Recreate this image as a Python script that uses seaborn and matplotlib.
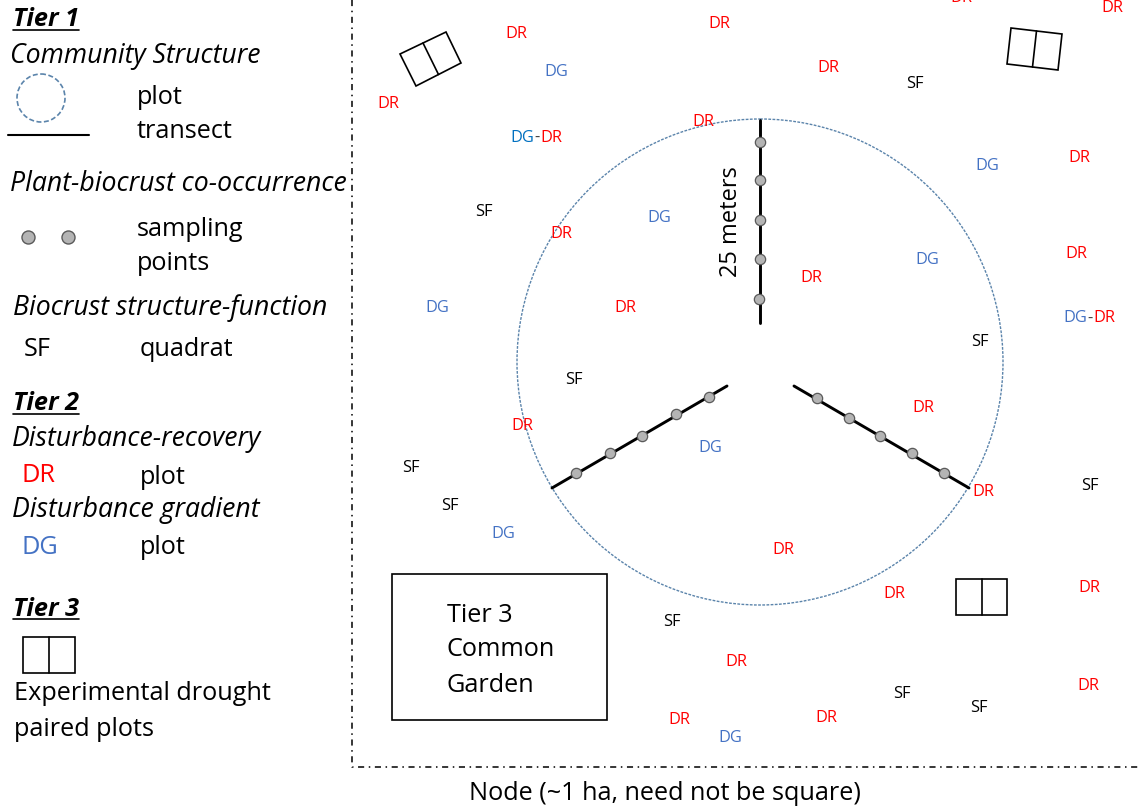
import matplotlib
matplotlib.use("Agg")
import matplotlib.pyplot as plt
from matplotlib.patches import Circle, Polygon, Rectangle
import pandas as pd
import seaborn as sns

# field site labels, positions in image pixels
dr_x = [516, 719, 828, 388, 703, 1079, 561, 625, 811, 1076, 923, 522, 983, 783, 894, 1089, 736, 1088, 679, 826, 961, 1112]
dr_y = [32, 23, 67, 102, 121, 156, 232, 306, 276, 253, 407, 424, 490, 548, 592, 587, 660, 684, 718, 716, -3, 6]
dg_x = [556, 987, 659, 927, 437, 710, 503, 730]
dg_y = [71, 164, 217, 258, 306, 447, 533, 737]
sf_x = [915, 484, 980, 574, 411, 450, 1090, 672, 902, 979]
sf_y = [83, 210, 341, 379, 466, 505, 485, 621, 692, 707]

# transects and their sampling points
transect_a_x = [760, 760]
transect_a_y = [120, 323]
transect_b_x = [794, 969]
transect_b_y = [386, 488]
transect_c_x = [727, 552]
transect_c_y = [386, 488]
points_x = [760, 760, 760, 760, 759, 817, 849, 880, 912, 944, 709, 676, 642, 610, 576]
points_y = [142, 180, 220, 259, 299, 398, 418, 436, 453, 473, 397, 414, 436, 453, 473]
key_points_x = [28, 68]
key_points_y = [237, 237]

# paired drought plots: four corners, the divider joins the midpoints
pair_tl = [(400, 54), (446, 32), (461, 63), (416, 86)]
pair_tr = [(1011, 28), (1062, 34), (1058, 70), (1007, 64)]
pair_br = [(956, 579), (1007, 579), (1007, 615), (956, 615)]
pair_lg = [(23, 637), (75, 637), (75, 673), (23, 673)]

RED = "#ff0000"
BLUE = "#4472c4"
CIRCLE = "#5b84ab"
FONT = "Open Sans"
BIG = 18.2
ITALIC = 19.2
SMALL = 11.8

sns.set_theme(style="white")
plt.rcParams["font.family"] = [FONT, "DejaVu Sans"]
plt.rcParams["text.color"] = "black"

fig = plt.figure(figsize=(11.41, 8.06), dpi=100)
ax = fig.add_axes([0, 0, 1, 1])

# node border
ax.plot([352, 352, 1146], [0, 767, 767], color="black", lw=1.1, ls=(0, (4, 3, 1, 3)))

# plot circles
ax.add_patch(Circle((760, 362), 243, fill=False, ec=CIRCLE, lw=1, ls=(0, (2, 1))))
ax.add_patch(Circle((41, 98), 24, fill=False, ec=CIRCLE, lw=1.2, ls=(0, (3, 1.5))))

# transects
for tx, ty in [(transect_a_x, transect_a_y), (transect_b_x, transect_b_y), (transect_c_x, transect_c_y)]:
    line = pd.DataFrame({"x": tx, "y": ty})
    sns.lineplot(data=line, x="x", y="y", sort=False, estimator=None, color="black", lw=2.1, ax=ax)
ax.plot([8, 89], [135, 135], color="black", lw=1.5)

sns.scatterplot(x=points_x, y=points_y, s=55, color="#b4b4b4", edgecolor="#5a5a5a", linewidth=0.9, zorder=3, ax=ax)
sns.scatterplot(x=key_points_x, y=key_points_y, s=88, color="#b4b4b4", edgecolor="#5a5a5a", linewidth=1, zorder=3, ax=ax)


def paired(corners):
    ax.add_patch(Polygon(corners, closed=True, fill=False, ec="black", lw=1.2))
    a, b, c, d = corners
    ax.plot([(a[0] + b[0]) / 2, (c[0] + d[0]) / 2], [(a[1] + b[1]) / 2, (c[1] + d[1]) / 2], color="black", lw=1.2)


for corners in [pair_tl, pair_tr, pair_br, pair_lg]:
    paired(corners)

ax.add_patch(Rectangle((392, 574), 215, 146, fill=False, ec="black", lw=1.2))

# site labels
for xs, ys, label, col in [(dr_x, dr_y, "DR", RED), (dg_x, dg_y, "DG", BLUE), (sf_x, sf_y, "SF", "black")]:
    for x, y in zip(xs, ys):
        ax.text(x, y + 1.5, label, color=col, fontsize=SMALL, ha="center", va="center")

# the two combined labels
ax.text(510, 137.5, "DG", color="#0070c0", fontsize=SMALL, va="center")
ax.text(537, 137.5, "-", color="#404040", fontsize=SMALL, va="center", ha="center")
ax.text(540, 137.5, "DR", color=RED, fontsize=SMALL, va="center")
ax.text(1063, 318.5, "DG", color=BLUE, fontsize=SMALL, va="center")
ax.text(1090, 318.5, "-", color="#404040", fontsize=SMALL, va="center", ha="center")
ax.text(1093, 318.5, "DR", color=RED, fontsize=SMALL, va="center")

# key, left side
for x, y, s in [(13, 18, "Tier 1"), (13, 402, "Tier 2"), (13, 607, "Tier 3")]:
    ax.text(x, y + 2, s, fontsize=BIG, fontweight="bold", fontstyle="italic", va="center")
    ax.plot([13, 79], [y + 12, y + 12], color="black", lw=1.2)

for x, y, s in [(10, 54, "Community Structure"), (10, 182, "Plant-biocrust co-occurrence"),
                (13, 306, "Biocrust structure-function"), (12, 437, "Disturbance-recovery"),
                (12, 508, "Disturbance gradient")]:
    ax.text(x, y + 2, s, fontsize=ITALIC, fontstyle="italic", va="center")

for x, y, s in [(137, 95, "plot"), (137, 130, "transect"), (137, 227, "sampling"), (137, 262, "points"),
                (24, 348, "SF"), (140, 348, "quadrat"), (140, 475, "plot"), (140, 546, "plot"),
                (14, 692, "Experimental drought"), (14, 727, "paired plots"),
                (447, 613, "Tier 3"), (447, 648, "Common"), (447, 683, "Garden")]:
    ax.text(x, y + 2, s, fontsize=BIG, va="center")

ax.text(22, 476, "DR", color=RED, fontsize=BIG, va="center")
ax.text(22, 547, "DG", color=BLUE, fontsize=BIG, va="center")

ax.text(731, 222, "25 meters", fontsize=17, rotation=90, ha="center", va="center")
ax.text(665, 793, "Node (~1 ha, need not be square)", fontsize=BIG, ha="center", va="center")

# seaborn calls reset the limits, so fix them last
ax.set_xlim(0, 1141)
ax.set_ylim(806, 0)
ax.axis("off")

fig.savefig("out.png", dpi=100)
plt.close(fig)
